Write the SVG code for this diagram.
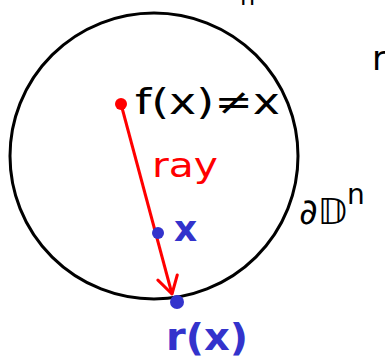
<svg xmlns="http://www.w3.org/2000/svg" width="385" height="360" viewBox="0 0 385 360">
<style>
.hand{font-family:"DejaVu Sans","Noto Sans",sans-serif}
.blk{fill:#000}
.red{fill:#f00}
.blue{fill:#3333cc;font-weight:bold}
</style>
<defs>
<marker id="arr" markerWidth="22" markerHeight="24" refX="19" refY="12" orient="auto" markerUnits="userSpaceOnUse">
<path d="M2,2 L19,12 L2,22" fill="none" stroke="#f00" stroke-width="3" stroke-linecap="round" stroke-linejoin="round"/>
</marker>
</defs>
<rect width="385" height="360" fill="#fff"/>
<g id="disk">
<ellipse cx="154" cy="156" rx="144" ry="143" fill="none" stroke="#000" stroke-width="3"/>
</g>
<g id="connectors">
<line x1="121" y1="104" x2="172" y2="294" stroke="#f00" stroke-width="3" marker-end="url(#arr)"/>
</g>
<g id="fx">
<circle cx="121" cy="104" r="6" fill="#f00"/>
<text x="135" y="114" class="hand blk" font-size="36" textLength="145" lengthAdjust="spacingAndGlyphs">f(x)≠x</text>
</g>
<g id="ray">
<text x="152" y="177" class="hand red" font-size="34" textLength="66" lengthAdjust="spacingAndGlyphs">ray</text>
</g>
<g id="x">
<circle cx="158" cy="233" r="6" fill="#3333cc"/>
<text x="174" y="241" class="hand blue" font-size="36">x</text>
</g>
<g id="rx">
<circle cx="177" cy="302" r="7" fill="#3333cc"/>
<text x="166" y="350" class="hand blue" font-size="38" textLength="82" lengthAdjust="spacingAndGlyphs">r(x)</text>
</g>
<g id="boundary">
<text x="299" y="224" class="hand blk" font-size="36">∂𝔻<tspan font-size="28" dy="-20">n</tspan></text>
</g>
<g id="cropped">
<text x="240" y="5" class="hand blk" font-size="24">n</text>
<text x="372" y="70" class="hand blk" font-size="34">r</text>
</g>
</svg>
